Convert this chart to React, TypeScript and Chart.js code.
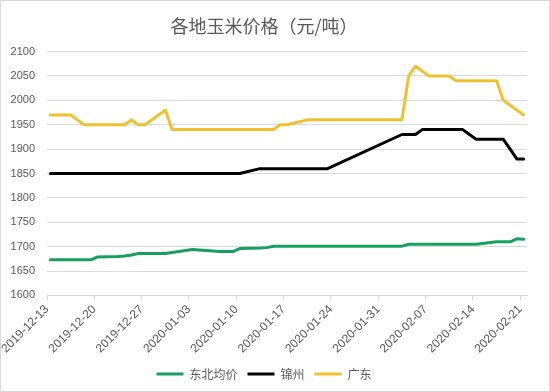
import React, { useEffect, useRef } from "react";
import { Chart, registerables } from "chart.js";

Chart.register(...registerables);

const title = "各地玉米价格（元/吨）";
const seriesNames = ["东北均价", "锦州", "广东"];
const startDate = "2019-12-13";
const endDate = "2020-02-21";

const dates = [
  "2019-12-13",
  "2019-12-16", "2019-12-17", "2019-12-18", "2019-12-19", "2019-12-20",
  "2019-12-23", "2019-12-24", "2019-12-25", "2019-12-26", "2019-12-27",
  "2019-12-30", "2019-12-31", "2020-01-01", "2020-01-02", "2020-01-03",
  "2020-01-06", "2020-01-07", "2020-01-08", "2020-01-09", "2020-01-10",
  "2020-01-13", "2020-01-14", "2020-01-15", "2020-01-16", "2020-01-17",
  "2020-01-20", "2020-01-21", "2020-01-22", "2020-01-23",
  "2020-02-03", "2020-02-04", "2020-02-05", "2020-02-06", "2020-02-07",
  "2020-02-10", "2020-02-11", "2020-02-12", "2020-02-13", "2020-02-14",
  "2020-02-17", "2020-02-18", "2020-02-19", "2020-02-20", "2020-02-21",
];

const dongbei = [
  1673,
  1673, 1673, 1673, 1673, 1679,
  1680, 1681, 1683, 1686, 1686,
  1686, 1688, 1690, 1692, 1694,
  1691, 1690, 1690, 1690, 1696,
  1697, 1698, 1701, 1701, 1701,
  1701, 1701, 1701, 1701,
  1701, 1705, 1705, 1705, 1705,
  1705, 1705, 1705, 1705, 1705,
  1710, 1710, 1710, 1716, 1715,
];

const jinzhou = [
  1850,
  1850, 1850, 1850, 1850, 1850,
  1850, 1850, 1850, 1850, 1850,
  1850, 1850, 1850, 1850, 1850,
  1850, 1850, 1850, 1850, 1850,
  1860, 1860, 1860, 1860, 1860,
  1860, 1860, 1860, 1860,
  1930, 1930, 1930, 1940, 1940,
  1940, 1940, 1940, 1930, 1920,
  1920, 1920, 1900, 1880, 1880,
];

const guangdong = [
  1970,
  1970, 1960, 1950, 1950, 1950,
  1950, 1950, 1960, 1950, 1950,
  1980, 1940, 1940, 1940, 1940,
  1940, 1940, 1940, 1940, 1940,
  1940, 1940, 1940, 1950, 1950,
  1960, 1960, 1960, 1960,
  1960, 2050, 2070, 2060, 2050,
  2050, 2040, 2040, 2040, 2040,
  2040, 2000, 1990, 1980, 1970,
];

const xTickLabels = [
  "2019-12-13", "2019-12-20", "2019-12-27", "2020-01-03", "2020-01-10",
  "2020-01-17", "2020-01-24", "2020-01-31", "2020-02-07", "2020-02-14",
  "2020-02-21",
];

const yMin = 1600;
const yMax = 2100;
const yStep = 50;

const colors = ["#17A05D", "#000000", "#F0C12E"];

const DAY = 86400000;
const dayIndex = (s: string) => {
  const [y, m, d] = s.split("-").map(Number);
  const [y0, m0, d0] = startDate.split("-").map(Number);
  return Math.round((Date.UTC(y, m - 1, d) - Date.UTC(y0, m0 - 1, d0)) / DAY);
};

export default function App() {
  const ref = useRef<HTMLCanvasElement | null>(null);

  useEffect(() => {
    if (!ref.current) return;
    const mk = (vals: number[]) =>
      dates.map((d, i) => ({ x: dayIndex(d) + 0.5, y: vals[i] }));
    const all = [dongbei, jinzhou, guangdong];
    const totalDays = dayIndex(endDate) + 1;
    const tickValues = xTickLabels.map(dayIndex);
    const labelFor = (v: number) => {
      const i = tickValues.indexOf(Math.round(v));
      return i >= 0 ? xTickLabels[i] : "";
    };
    const chart = new Chart(ref.current, {
      type: "line",
      data: {
        datasets: all.map((vals, i) => ({
          label: seriesNames[i],
          data: mk(vals),
          borderColor: colors[i],
          backgroundColor: colors[i],
          borderWidth: 3,
          pointRadius: 0,
          pointHoverRadius: 0,
          tension: 0,
          fill: false,
          borderJoinStyle: "round" as const,
          borderCapStyle: "round" as const,
        })),
      },
      options: {
        animation: false,
        responsive: false,
        maintainAspectRatio: false,
        layout: { padding: { left: 0, right: 22, top: 0, bottom: 1 } },
        plugins: {
          title: {
            display: true,
            text: title,
            color: "#595959",
            font: { family: "'Noto Sans CJK SC', sans-serif", size: 18, weight: "normal" },
            padding: { top: 14, bottom: 15 },
          },
          legend: {
            position: "bottom",
            labels: {
              usePointStyle: true,
              pointStyle: "line",
              pointStyleWidth: 27,
              color: "#595959",
              font: { family: "'Noto Sans CJK SC', sans-serif", size: 12 },
              padding: 10,
            },
          },
          tooltip: { enabled: false },
        },
        scales: {
          x: {
            type: "linear",
            min: 0,
            max: totalDays,
            afterBuildTicks: (axis: any) => {
              axis.ticks = tickValues.map((v) => ({ value: v }));
            },
            ticks: {
              autoSkip: false,
              maxRotation: 45,
              minRotation: 45,
              color: "#595959",
              font: { family: "'Liberation Sans', Arial, sans-serif", size: 12 },
              padding: 2,
              callback: (v: any) => labelFor(Number(v)),
            },
            grid: {
              drawOnChartArea: false,
              drawTicks: true,
              tickLength: 5,
              color: "#D9D9D9",
            },
            border: { display: true, color: "#D9D9D9" },
          },
          y: {
            min: yMin,
            max: yMax,
            afterFit: (scale: any) => {
              scale.width = 46;
            },
            ticks: {
              stepSize: yStep,
              color: "#595959",
              font: { family: "'Liberation Sans', Arial, sans-serif", size: 11 },
              padding: 12,
              callback: (v: any) => String(v),
            },
            grid: { color: "#D9D9D9", drawTicks: false },
            border: { display: false },
          },
        },
      },
    });
    return () => chart.destroy();
  }, []);

  return (
    <div
      style={{
        position: "absolute",
        left: 0,
        top: 0,
        width: 548,
        height: 390,
        border: "1px solid #D9D9D9",
        background: "#fff",
      }}
    >
      <canvas ref={ref} width={548} height={390} style={{ display: "block" }} />
    </div>
  );
}
